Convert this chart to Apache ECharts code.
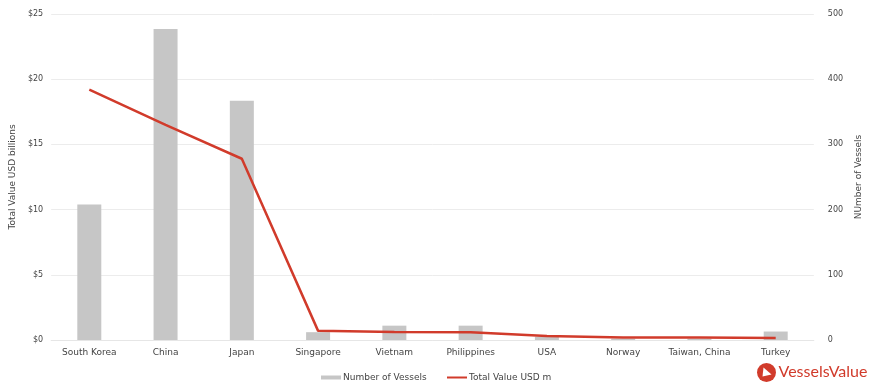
<!DOCTYPE html>
<html>
<head>
<meta charset="utf-8">
<script src="https://cdn.jsdelivr.net/npm/echarts@6/dist/echarts.min.js"></script>
<style>
  html, body { margin: 0; padding: 0; background: #fff; }
  #chart { width: 871px; height: 390px; }
</style>
</head>
<body>
<div id="chart"></div>
<script>
  var countries = ['South Korea', 'China', 'Japan', 'Singapore', 'Vietnam', 'Philippines', 'USA', 'Norway', 'Taiwan, China', 'Turkey'];
  var vessels = [208, 477, 367, 12, 22, 22, 5, 2, 2, 13];
  var totalValue = [19.2, 16.5, 13.9, 0.7, 0.62, 0.6, 0.3, 0.2, 0.2, 0.15];

  var fontFamily = 'DejaVu Sans';
  var red = '#d13b2b';
  var legendText = { fontSize: 9, color: '#444', fontFamily: fontFamily, padding: [0, 0, 0, -3] };

  var myChart = echarts.init(document.getElementById('chart'));
  var option = {
    animation: false,
    textStyle: { fontFamily: fontFamily },
    grid: { left: 48, right: 48, top: 14, bottom: 50 },
    legend: [
      {
        left: 316,
        bottom: 3,
        itemWidth: 20,
        itemHeight: 4,
        textStyle: legendText,
        data: [{ name: 'Number of Vessels', icon: 'rect' }]
      },
      {
        left: 442,
        bottom: 3,
        itemWidth: 20,
        itemHeight: 2,
        textStyle: legendText,
        data: [{ name: 'Total Value USD m', icon: 'rect', itemStyle: { color: red } }]
      }
    ],
    xAxis: [{
      type: 'category',
      data: countries,
      axisTick: { show: false },
      axisLine: { lineStyle: { color: '#e6e6e6' } },
      axisLabel: { fontSize: 9, color: '#444', margin: 8, interval: 0 }
    }],
    yAxis: [
      {
        type: 'value',
        min: 0,
        max: 25,
        interval: 5,
        name: 'Total Value USD billions',
        nameLocation: 'middle',
        nameGap: 31,
        nameTextStyle: { fontSize: 9, color: '#444' },
        axisLabel: { fontSize: 8, color: '#444', formatter: '${value}' },
        splitLine: { lineStyle: { color: '#ececec' } },
        axisLine: { show: false },
        axisTick: { show: false }
      },
      {
        type: 'value',
        min: 0,
        max: 500,
        interval: 100,
        name: 'NUmber of Vessels',
        nameLocation: 'middle',
        nameGap: 28,
        nameTextStyle: { fontSize: 9, color: '#444' },
        axisLabel: { fontSize: 8, color: '#444', margin: 14 },
        splitLine: { show: false },
        axisLine: { show: false },
        axisTick: { show: false }
      }
    ],
    series: [
      {
        name: 'Number of Vessels',
        type: 'bar',
        yAxisIndex: 1,
        barWidth: 24,
        itemStyle: { color: '#c6c6c6' },
        data: vessels
      },
      {
        name: 'Total Value USD m',
        type: 'line',
        yAxisIndex: 0,
        symbol: 'none',
        lineStyle: { color: red, width: 2.5 },
        itemStyle: { color: red },
        data: totalValue
      }
    ],
    graphic: [
      {
        type: 'group',
        left: 757,
        top: 363,
        children: [
          { type: 'circle', shape: { cx: 10, cy: 10, r: 9.5 }, style: { fill: red } },
          { type: 'polygon', shape: { points: [[7, 5], [15, 12], [6, 14]] }, style: { fill: '#fff' } },
          {
            type: 'text', left: 22, top: 1,
            style: { text: 'VesselsValue', fill: red, fontSize: 16, fontFamily: 'Lato', fontWeight: 'normal' }
          }
        ]
      }
    ]
  };
  myChart.setOption(option);
</script>
</body>
</html>
